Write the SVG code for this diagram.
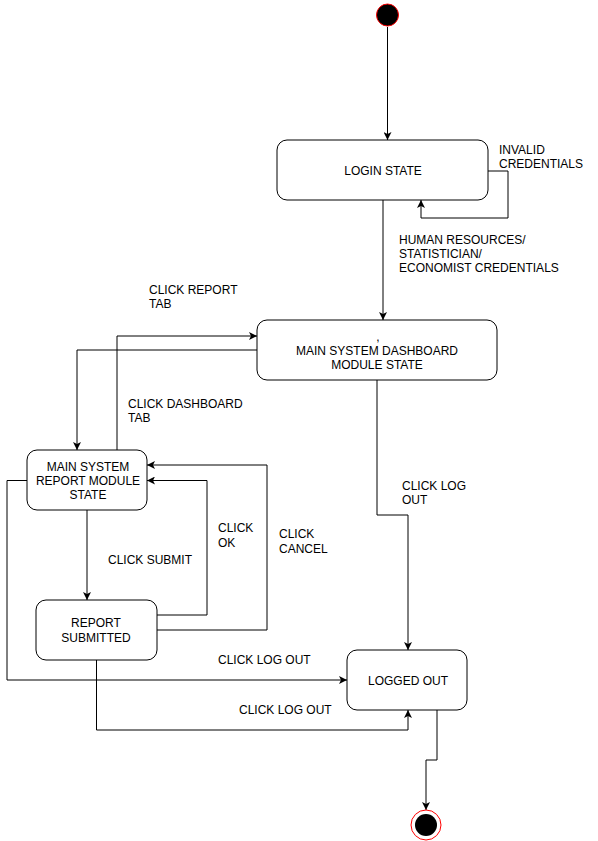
<svg xmlns="http://www.w3.org/2000/svg" width="598" height="841" viewBox="0 0 598 841">
<defs>
<style>
.st{fill:#fff;stroke:#000;stroke-width:1}
.t{font-family:"Liberation Sans",Arial,sans-serif;font-size:12px;fill:#000}
.m{text-anchor:middle}
.c{fill:none;stroke:#000;stroke-width:1}
</style>
<marker id="a" viewBox="0 0 10 10" refX="10" refY="5" markerWidth="8" markerHeight="8" orient="auto" markerUnits="userSpaceOnUse">
<path d="M0,0 L10,5 L0,10 L2.5,5 Z" fill="#000"/>
</marker>
</defs>
<rect width="598" height="841" fill="#fff"/>
<g id="connectors">
<path class="c" d="M387.5,27 V140" marker-end="url(#a)"/>
<path class="c" d="M488,171 H508 V218 H421 V200" marker-end="url(#a)"/>
<path class="c" d="M383,200 V320" marker-end="url(#a)"/>
<path class="c" d="M117,450 V336 H257" marker-end="url(#a)"/>
<path class="c" d="M257,350 H77 V450" marker-end="url(#a)"/>
<path class="c" d="M377,380 V515 H408 V650" marker-end="url(#a)"/>
<path class="c" d="M87,510 V600" marker-end="url(#a)"/>
<path class="c" d="M157,615 H207 V480.5 H147" marker-end="url(#a)"/>
<path class="c" d="M157,630 H267 V465 H147" marker-end="url(#a)"/>
<path class="c" d="M27,480.5 H7 V680 H347" marker-end="url(#a)"/>
<path class="c" d="M96.5,660 V730 H408 V710" marker-end="url(#a)"/>
<path class="c" d="M437,710 V760 H426 V810" marker-end="url(#a)"/>
</g>
<g id="labels">
<text class="t" x="499" y="154">INVALID</text>
<text class="t" x="499" y="168">CREDENTIALS</text>
<text class="t" x="399" y="244">HUMAN RESOURCES/</text>
<text class="t" x="399" y="258">STATISTICIAN/</text>
<text class="t" x="399" y="272">ECONOMIST CREDENTIALS</text>
<text class="t" x="149" y="294">CLICK REPORT</text>
<text class="t" x="149" y="308">TAB</text>
<text class="t" x="128" y="408">CLICK DASHBOARD</text>
<text class="t" x="128" y="422">TAB</text>
<text class="t" x="402" y="490">CLICK LOG</text>
<text class="t" x="402" y="504">OUT</text>
<text class="t" x="108" y="564">CLICK SUBMIT</text>
<text class="t" x="218" y="532">CLICK</text>
<text class="t" x="218" y="547">OK</text>
<text class="t" x="279" y="538">CLICK</text>
<text class="t" x="279" y="553">CANCEL</text>
<text class="t" x="218" y="664">CLICK LOG OUT</text>
<text class="t" x="239" y="714">CLICK LOG OUT</text>
</g>
<g id="start">
<circle cx="387.5" cy="15" r="11" fill="#000" stroke="#ff0000" stroke-width="1"/>
</g>
<g id="login">
<rect class="st" x="277" y="140" width="211" height="60" rx="10"/>
<text class="t m" x="383" y="175">LOGIN STATE</text>
</g>
<g id="dashboard">
<rect class="st" x="257" y="320" width="240" height="60" rx="10"/>
<text class="t m" x="378" y="341">,</text>
<text class="t m" x="377" y="355">MAIN SYSTEM DASHBOARD</text>
<text class="t m" x="377" y="369">MODULE STATE</text>
</g>
<g id="report-module">
<rect class="st" x="27" y="450" width="120" height="60" rx="10"/>
<text class="t m" x="88" y="471">MAIN SYSTEM</text>
<text class="t m" x="88" y="485">REPORT MODULE</text>
<text class="t m" x="88" y="499">STATE</text>
</g>
<g id="report-submitted">
<rect class="st" x="36" y="600" width="121" height="60" rx="10"/>
<text class="t m" x="96" y="627">REPORT</text>
<text class="t m" x="96" y="642">SUBMITTED</text>
</g>
<g id="logged-out">
<rect class="st" x="347" y="650" width="120" height="60" rx="10"/>
<text class="t m" x="408" y="685">LOGGED OUT</text>
</g>
<g id="end">
<circle cx="426" cy="825" r="15" fill="#fff" stroke="#ff0000" stroke-width="1"/>
<circle cx="426" cy="825" r="11" fill="#000"/>
</g>
</svg>
